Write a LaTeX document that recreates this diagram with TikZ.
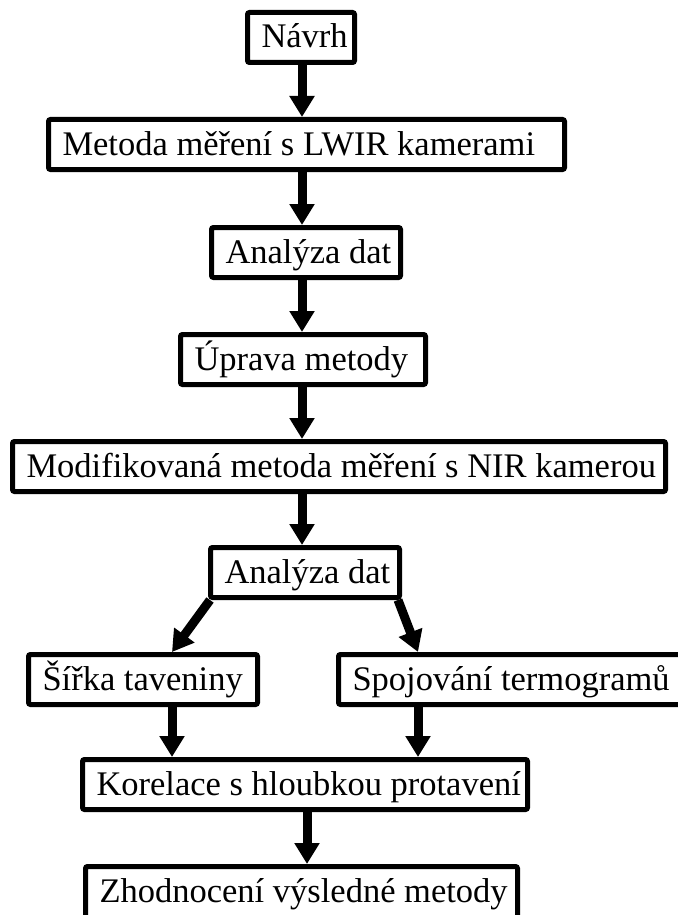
\documentclass[tikz,border=0pt]{standalone}
\usepackage{fontspec}
\setmainfont{Liberation Serif}
\usetikzlibrary{arrows.meta}
\newcommand{\lboxtxt}[2]{\makebox[#1pt][l]{#2}}
\begin{document}
\begin{tikzpicture}[x=1pt,y=-1pt,
  stepbox/.style={draw=black, line width=5pt, rounded corners=2pt, fill=white,
    anchor=north west, inner xsep=14pt, inner ysep=0pt,
    text height=34pt, text depth=13pt,
    minimum height=50pt, font=\fontsize{34.5}{40}\selectfont},
  arr/.style={line width=9pt, -{Triangle[width=24pt,length=21pt]}}]
\useasboundingbox (0,0) rectangle (677,915);
\coordinate (ax) at (302,0);
\coordinate (lx) at (172,0);
\coordinate (rx) at (418,0);
\coordinate (bx) at (307,0);
\node[stepbox] (n0) at (245,10)  {\lboxtxt{79}{Návrh}};
\node[stepbox] (n1) at (46,117)  {\lboxtxt{488}{Metoda měření s LWIR kamerami}};
\node[stepbox] (n2) at (209,225) {\lboxtxt{161}{Analýza dat}};
\node[stepbox] (n3) at (178,332) {\lboxtxt{217}{Úprava metody}};
\node[stepbox] (n4) at (10,439)  {\lboxtxt{625}{Modifikovaná metoda měření s NIR kamerou}};
\node[stepbox] (n5) at (208,545) {\lboxtxt{161}{Analýza dat}};
\node[stepbox] (n6) at (26,652)  {\lboxtxt{201}{Šířka taveniny}};
\node[stepbox] (n7) at (336,652) {\lboxtxt{327}{Spojování termogramů}};
\node[stepbox] (n8) at (80,757)  {\lboxtxt{417}{Korelace s hloubkou protavení}};
\node[stepbox, minimum height=60pt, text height=30pt, text depth=19pt] (n9) at (83,864)  {\lboxtxt{404}{Zhodnocení výsledné metody}};
\draw[arr] (n0.south -| ax) -- (n1.north -| ax);
\draw[arr] (n1.south -| ax) -- (n2.north -| ax);
\draw[arr] (n2.south -| ax) -- (n3.north -| ax);
\draw[arr] (n3.south -| ax) -- (n4.north -| ax);
\draw[arr] (n4.south -| ax) -- (n5.north -| ax);
\draw[arr] ([xshift=2pt]n5.south west) -- (n6.north -| lx);
\draw[arr] ([xshift=-4pt]n5.south east) -- (n7.north -| rx);
\draw[arr] (n6.south -| lx) -- (n8.north -| lx);
\draw[arr] (n7.south -| rx) -- (n8.north -| rx);
\draw[arr] (n8.south -| bx) -- (n9.north -| bx);
\end{tikzpicture}
\end{document}
